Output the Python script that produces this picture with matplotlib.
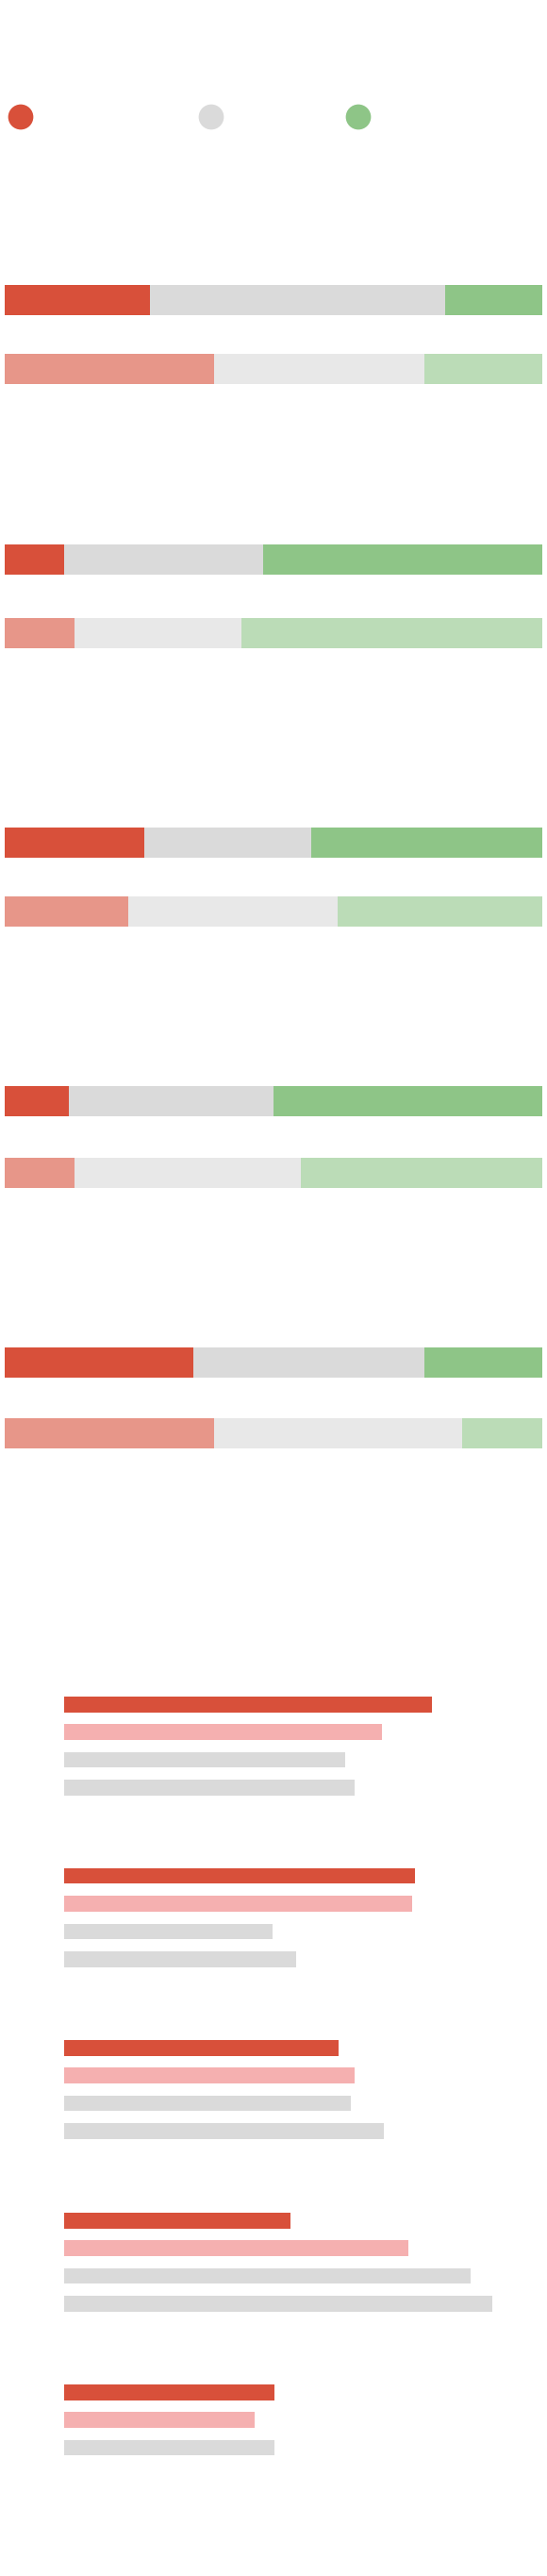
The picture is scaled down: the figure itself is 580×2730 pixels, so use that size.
import numpy as np
import matplotlib.pyplot as plt

W, H = 580, 2730
DPI = 100

# stacked share bars: two rows per group (negative / neutral / positive)
neg_main = [27, 11, 26, 12, 35]
neu_main = [55, 37, 31, 38, 43]
pos_main = [18, 52, 43, 50, 22]
neg_comp = [39, 13, 23, 13, 39]
neu_comp = [39, 31, 39, 42, 46]
pos_comp = [22, 56, 38, 45, 15]

# plain horizontal bars, four per group (last group has three)
hbar_values = [
    [76.9, 66.5, 58.7, 60.7],
    [73.4, 72.7, 43.6, 48.5],
    [57.4, 60.7, 60.0, 66.9],
    [47.4, 72.0, 85.0, 89.5],
    [43.9, 39.9, 44.0, np.nan],
]

RED = "#D8503A"
GRAY = "#DADADA"
GREEN = "#8EC587"
PINK = "#F5B0B0"
legend_colors = [RED, GRAY, GREEN]

fig = plt.figure(figsize=(W / DPI, H / DPI), dpi=DPI)
fig.patch.set_facecolor("white")


def px_axes(left, top, width, height):
    ax = fig.add_axes([left / W, 1 - (top + height) / H, width / W, height / H])
    ax.axis("off")
    return ax


# legend dots
ax_leg = px_axes(0, 100, W, 50)
ax_leg.set_xlim(0, W)
ax_leg.set_ylim(0, 50)
ax_leg.scatter([22, 224, 380], [26, 26, 26], s=370, c=legend_colors, linewidths=0)

# stacked pairs
pair_tops = [302, 577, 877, 1151, 1428]
pair_bottoms = [407, 687, 982, 1259, 1535]
bar_px = 32
for i in range(len(neg_main)):
    span = pair_bottoms[i] - pair_tops[i]
    hb = bar_px / (span - bar_px)
    ax = px_axes(5, pair_tops[i], 570, span)
    rows = [(neg_main[i], neu_main[i], pos_main[i], 1.0),
            (neg_comp[i], neu_comp[i], pos_comp[i], 0.6)]
    for y, (n, m, p, a) in enumerate(rows):
        ax.barh(y, n, height=hb, color=RED, alpha=a, linewidth=0)
        ax.barh(y, m, left=n, height=hb, color=GRAY, alpha=a, linewidth=0)
        ax.barh(y, p, left=n + m, height=hb, color=GREEN, alpha=a, linewidth=0)
    ax.set_xlim(0, 100)
    ax.set_ylim(1 + hb / 2, -hb / 2)

# grouped horizontal bars
group_tops = [1798, 1980, 2162, 2345, 2527]
row_colors = [RED, PINK, GRAY, GRAY]
step = 29.4
bh = 16.5
for i, vals in enumerate(hbar_values):
    span = 3 * step + bh
    ax = px_axes(68, group_tops[i], 507, span)
    hb = bh / step
    for j, v in enumerate(vals):
        if np.isnan(v):
            continue
        ax.barh(j, v, height=hb, color=row_colors[j], linewidth=0)
    ax.set_xlim(0, 100)
    ax.set_ylim(3 + hb / 2, -hb / 2)

fig.savefig("out.png", dpi=DPI, facecolor="white")
